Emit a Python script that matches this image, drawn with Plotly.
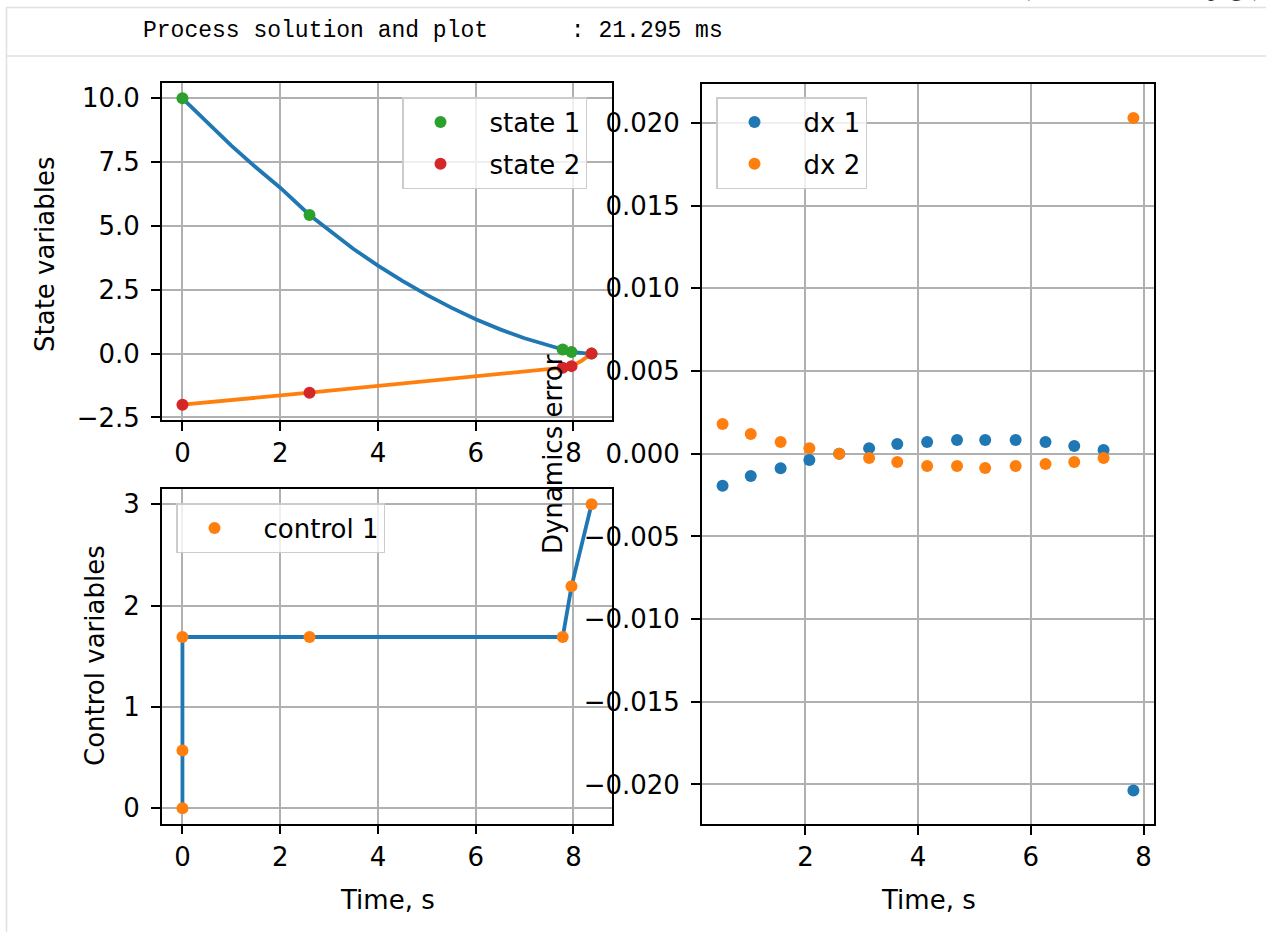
import plotly.graph_objects as go

W, H = 1266, 932

# ---- solution at the collocation nodes ----
t_nodes = [0.0, 2.6, 7.78, 7.96, 8.37]
state1_nodes = [10.0, 5.43, 0.16, 0.06, 0.0]
state2_nodes = [-2.0, -1.53, -0.55, -0.49, 0.0]

# ---- interpolated state trajectories ----
t_state1 = [0.0, 0.5, 1.0, 1.5, 2.0, 2.6, 3.0, 3.5, 4.0, 4.5, 5.0, 5.5,
            6.0, 6.5, 7.0, 7.5, 7.78, 7.96, 8.1, 8.25, 8.37]
state1_curve = [10.0, 9.05, 8.15, 7.3, 6.5, 5.43, 4.85, 4.1, 3.45, 2.85, 2.3,
                1.8, 1.35, 0.95, 0.6, 0.3, 0.16, 0.07, 0.03, 0.01, 0.0]
t_state2 = [0.0, 2.6, 7.78, 7.96, 8.15, 8.37]
state2_curve = [-2.0, -1.53, -0.55, -0.49, -0.3, 0.0]

# ---- control ----
t_control = [0.0, 0.0, 0.0, 2.6, 7.78, 7.96, 8.37]
control1 = [0.0, 0.57, 1.69, 1.69, 1.69, 2.19, 3.0]

# ---- dynamics residuals ----
t_err = [0.53, 1.03, 1.56, 2.07, 2.60, 3.13, 3.63, 4.16, 4.69, 5.19,
         5.73, 6.26, 6.77, 7.29, 7.82]
dx1 = [-0.00194, -0.00135, -0.00087, -0.00038, 0.0, 0.00034, 0.00059,
       0.00071, 0.00083, 0.00083, 0.00083, 0.00071, 0.00047, 0.00022, -0.02036]
dx2 = [0.0018, 0.00119, 0.00071, 0.00034, 0.0, -0.00026, -0.0005,
       -0.00074, -0.00074, -0.00086, -0.00074, -0.00062, -0.0005, -0.00026, 0.0203]

# ---- tick labels ----
time_ticks_left = [0, 2, 4, 6, 8]
time_ticks_right = [2, 4, 6, 8]
state_ticks = [-2.5, 0.0, 2.5, 5.0, 7.5, 10.0]
state_ticktext = ["\u22122.5", "0.0", "2.5", "5.0", "7.5", "10.0"]
control_ticks = [0, 1, 2, 3]
err_ticks = [-0.02, -0.015, -0.01, -0.005, 0.0, 0.005, 0.01, 0.015, 0.02]
err_ticktext = ["\u22120.020", "\u22120.015", "\u22120.010", "\u22120.005", "0.000",
                "0.005", "0.010", "0.015", "0.020"]

C0, C1, C2, C3 = "#1f77b4", "#ff7f0e", "#2ca02c", "#d62728"
FONT = "DejaVu Sans"
FS = 26
LW = 3.8


def fx(px):
    return px / W


def fy(py):
    return 1 - py / H


fig = go.Figure()

# state panel
fig.add_trace(go.Scatter(x=t_state1, y=state1_curve, mode="lines", line=dict(color=C0, width=LW),
                         showlegend=False, xaxis="x", yaxis="y"))
fig.add_trace(go.Scatter(x=t_state2, y=state2_curve, mode="lines", line=dict(color=C1, width=LW),
                         showlegend=False, xaxis="x", yaxis="y"))
fig.add_trace(go.Scatter(x=t_nodes, y=state1_nodes, mode="markers", name="state 1",
                         marker=dict(color=C2, size=12), legend="legend", legendgroup="s1",
                         xaxis="x", yaxis="y"))
fig.add_trace(go.Scatter(x=t_nodes, y=state2_nodes, mode="markers", name="state 2",
                         marker=dict(color=C3, size=12), legend="legend", legendgroup="s2",
                         xaxis="x", yaxis="y"))

# control panel
fig.add_trace(go.Scatter(x=t_control, y=control1, mode="lines", line=dict(color=C0, width=LW),
                         showlegend=False, xaxis="x2", yaxis="y2"))
fig.add_trace(go.Scatter(x=t_control, y=control1, mode="markers", name="control 1",
                         marker=dict(color=C1, size=12), legend="legend3", legendgroup="c1",
                         xaxis="x2", yaxis="y2"))

# dynamics error panel
fig.add_trace(go.Scatter(x=t_err, y=dx1, mode="markers", name="dx 1",
                         marker=dict(color=C0, size=12), legend="legend2", legendgroup="d1",
                         xaxis="x3", yaxis="y3"))
fig.add_trace(go.Scatter(x=t_err, y=dx2, mode="markers", name="dx 2",
                         marker=dict(color=C1, size=12), legend="legend2", legendgroup="d2",
                         xaxis="x3", yaxis="y3"))

axis_style = dict(showline=True, linecolor="black", linewidth=1.8, mirror=True,
                  ticks="outside", ticklen=9, tickwidth=1.6, tickcolor="black",
                  showgrid=True, gridcolor="#b0b0b0", gridwidth=1.6, zeroline=False,
                  tickfont=dict(family=FONT, size=FS, color="black"))
yaxis_style = dict(axis_style, ticklabelstandoff=6)

legend_style = dict(bgcolor="rgba(255,255,255,0.8)", bordercolor="#cccccc", borderwidth=1.5,
                    font=dict(family=FONT, size=FS, color="black"), itemwidth=88,
                    indentation=-12, traceorder="grouped", tracegroupgap=5,
                    xanchor="left", yanchor="top", xref="paper", yref="paper")

fig.update_layout(
    width=W, height=H, autosize=False, margin=dict(l=0, r=0, t=0, b=0, autoexpand=False),
    paper_bgcolor="white", plot_bgcolor="white",
    xaxis=dict(domain=[fx(162), fx(612)], anchor="y", range=[-0.4185, 8.7885],
               tickvals=time_ticks_left, ticktext=[str(v) for v in time_ticks_left], **axis_style),
    yaxis=dict(domain=[fy(420), fy(83)], anchor="x", range=[-2.6, 10.6],
               tickvals=state_ticks, ticktext=state_ticktext, **yaxis_style),
    xaxis2=dict(domain=[fx(162), fx(612)], anchor="y2", range=[-0.4185, 8.7885],
                tickvals=time_ticks_left, ticktext=[str(v) for v in time_ticks_left], **axis_style),
    yaxis2=dict(domain=[fy(823.5), fy(489)], anchor="x2", range=[-0.15, 3.15],
                tickvals=control_ticks, ticktext=[str(v) for v in control_ticks], **yaxis_style),
    xaxis3=dict(domain=[fx(702), fx(1154)], anchor="y3", range=[0.165, 8.185],
                tickvals=time_ticks_right, ticktext=[str(v) for v in time_ticks_right], **axis_style),
    yaxis3=dict(domain=[fy(824), fy(83.5)], anchor="x3", range=[-0.02239, 0.02239],
                tickvals=err_ticks, ticktext=err_ticktext, **yaxis_style),
    legend=dict(x=fx(402), y=fy(97), **legend_style),
    legend2=dict(x=fx(716), y=fy(97), **legend_style),
    legend3=dict(x=fx(176), y=fy(503), **legend_style),
)

# axis titles
label_font = dict(family=FONT, size=FS, color="black")
titles = [
    ("State variables", 45, 254, -90),
    ("Control variables", 95, 656, -90),
    ("Dynamics error", 553, 454, -90),
    ("Time, s", 387, 900, 0),
    ("Time, s", 928, 900, 0),
]
for text, px, py, ang in titles:
    fig.add_annotation(text=text, x=fx(px), y=fy(py), xref="paper", yref="paper",
                       xanchor="center", yanchor="middle", showarrow=False,
                       textangle=ang, font=label_font)

# notebook cell frame and timing output
line_col = "#e0e0e0"
fig.add_shape(type="line", xref="paper", yref="paper", x0=fx(6), x1=1, y0=fy(7.5), y1=fy(7.5),
              line=dict(color=line_col, width=1.5))
fig.add_shape(type="line", xref="paper", yref="paper", x0=fx(6.5), x1=fx(6.5), y0=fy(7.5), y1=0,
              line=dict(color=line_col, width=1.5))
fig.add_shape(type="line", xref="paper", yref="paper", x0=fx(6.5), x1=1, y0=fy(56), y1=fy(56),
              line=dict(color=line_col, width=1.5))
fig.add_annotation(text="Process solution and plot      : 21.295 ms", x=fx(141), y=fy(31),
                   xref="paper", yref="paper", xanchor="left", yanchor="middle", showarrow=False,
                   font=dict(family="Liberation Mono", size=23, color="black"))
fig.add_annotation(text="(continued on next page)", x=fx(1263), y=fy(3), xref="paper", yref="paper",
                   xanchor="right", yanchor="bottom", showarrow=False,
                   font=dict(family="Liberation Serif", size=24, color="#333333"))

fig.write_html("out.html", config={"displayModeBar": False, "responsive": False})
